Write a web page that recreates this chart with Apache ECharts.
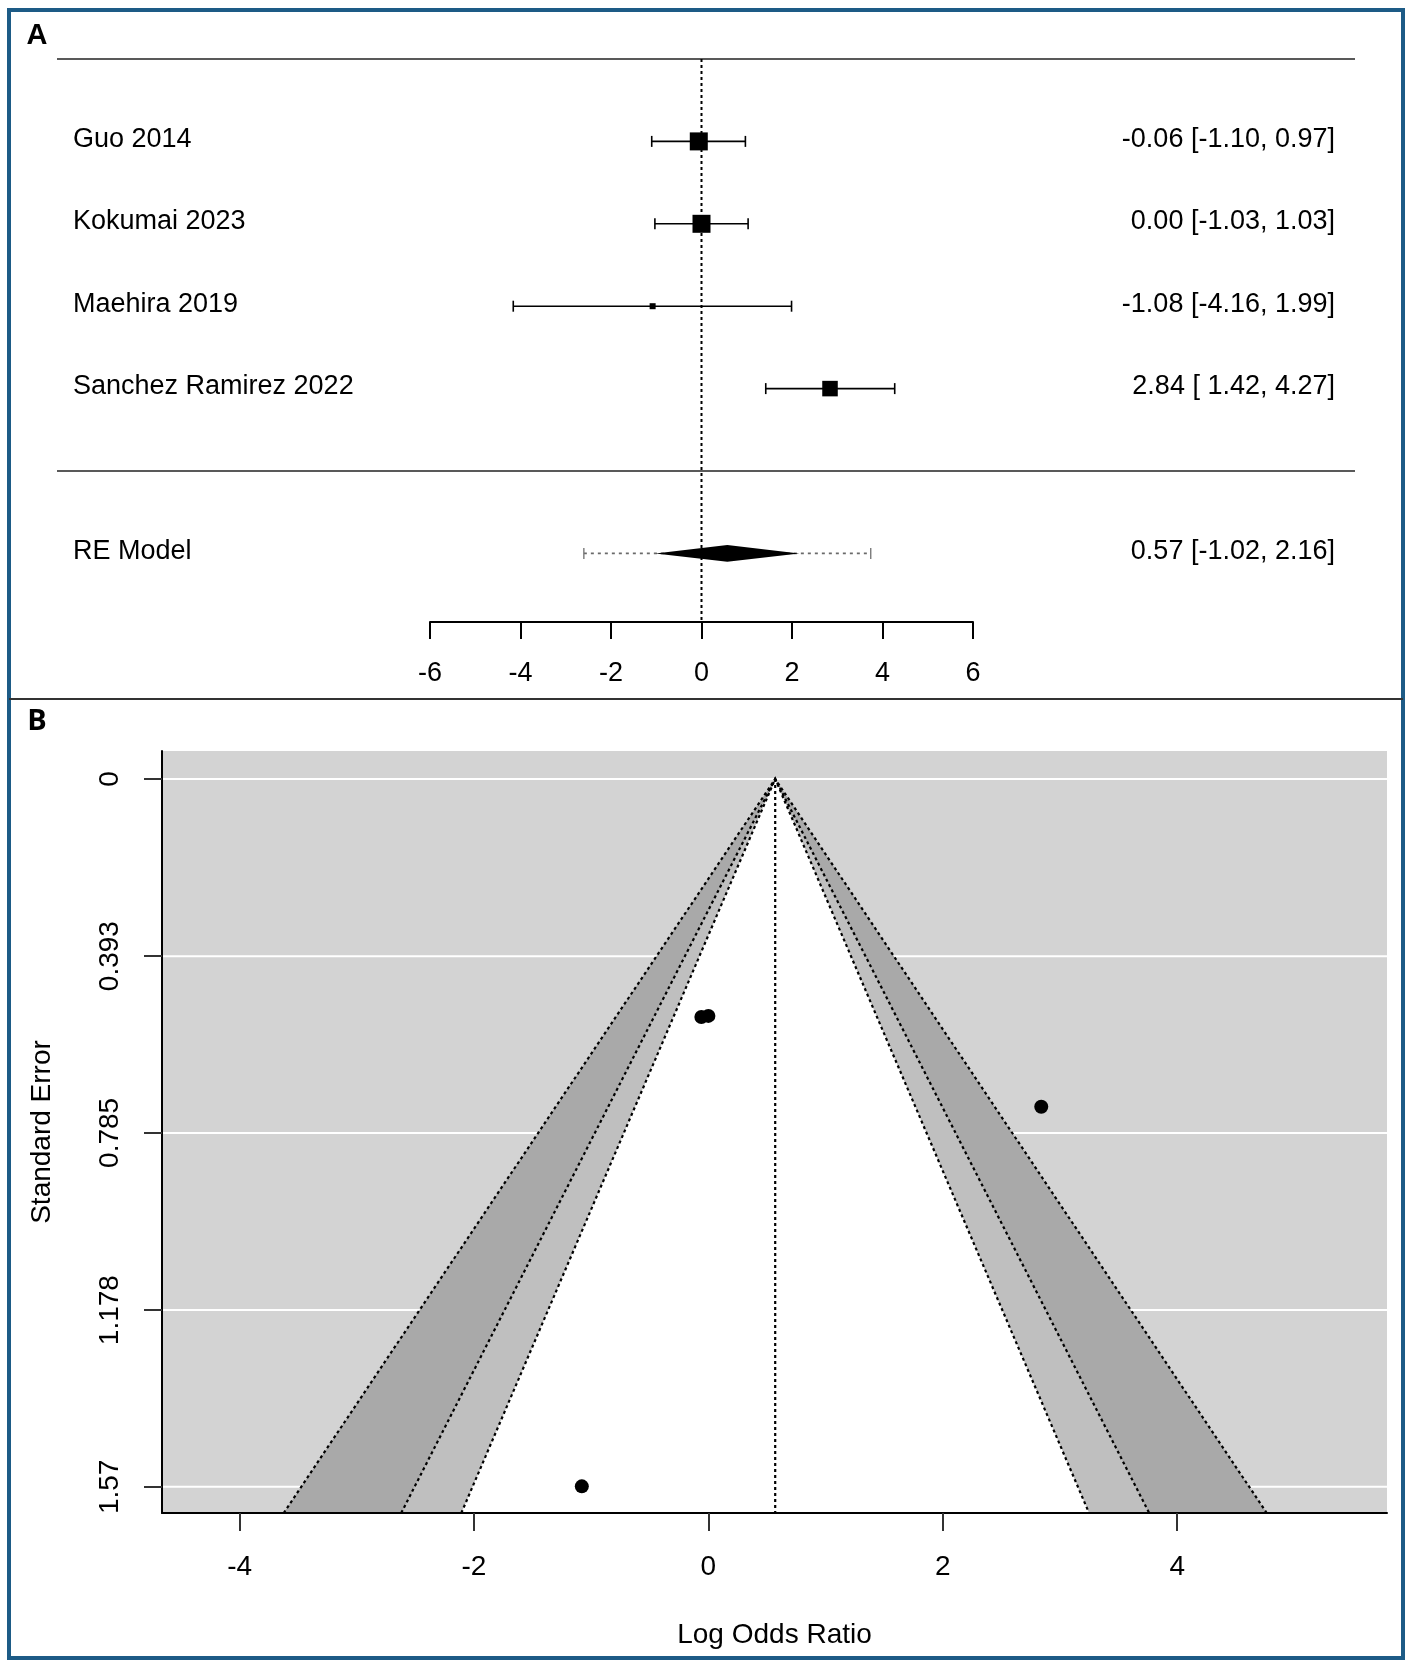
<!DOCTYPE html>
<html><head><meta charset="utf-8">
<script src="https://cdn.jsdelivr.net/npm/echarts@6/dist/echarts.min.js"></script>
<style>html,body{margin:0;padding:0;background:#fff}#c{width:1417px;height:1671px}</style>
</head><body><div id="c"></div>
<script>
// ---------------- DATA ----------------
const studies   = ['Guo 2014', 'Kokumai 2023', 'Maehira 2019', 'Sanchez Ramirez 2022'];
const estimates = [-0.06, 0.00, -1.08, 2.84];
const ciLower   = [-1.10, -1.03, -4.16, 1.42];
const ciUpper   = [0.97, 1.03, 1.99, 4.27];
const weights   = [29.4, 29.4, 14.8, 26.4];
const reLabel = 'RE Model';
const reEstimate = 0.57, reLower = -1.02, reUpper = 2.16;
const piLower = -2.60, piUpper = 3.74;
const forestTicks = [-6, -4, -2, 0, 2, 4, 6];
const funnelXTicks = [-4, -2, 0, 2, 4];
const funnelYTicks = [0, 0.393, 0.785, 1.178, 1.57];
const contourZ = [2.576, 1.960, 1.645];          // 99%, 95%, 90%
const funnelXName = 'Log Odds Ratio', funnelYName = 'Standard Error';

// ---------------- LAYOUT / STYLE ----------------
const FONT = '"Liberation Sans", Arial, sans-serif';
const FL = {left: 57, right: 1355, top: 59, bottom: 622, zeroPx: 701.5, unitPx: 45.25, rowPx: 82.4};
const k = studies.length;
const fXmin = (FL.left - FL.zeroPx) / FL.unitPx, fXmax = (FL.right - FL.zeroPx) / FL.unitPx;
const fYmax = k + 1, fYmin = fYmax - (FL.bottom - FL.top) / FL.rowPx;
const axLeft = FL.zeroPx + forestTicks[0] * FL.unitPx;
const axWidth = (forestTicks[forestTicks.length - 1] - forestTicks[0]) * FL.unitPx;

const FU = {left: 162, top: 751, width: 1225, height: 762, xmin: -4.662, xmax: 5.79, ymin: -0.062, ymax: 1.628};
const bandColors = ['#a9a9a9', '#bfbfbf', '#ffffff'];

const wMin = Math.min(...weights), wMax = Math.max(...weights);
const allLb = ciLower.concat([reLower]).map(v => v.toFixed(2));
const lbW = Math.max(...allLb.map(s => s.length));
const allUb = ciUpper.concat([reUpper]).map(v => v.toFixed(2));
const ubW = Math.max(...allUb.map(s => s.length));
const pad = (s, w) => ' '.repeat(Math.max(0, w - s.length)) + s;
const annot = (e, l, u) => `${e.toFixed(2)} [${pad(l.toFixed(2), lbW)}, ${pad(u.toFixed(2), ubW)}]`;

const se = ciLower.map((l, i) => (ciUpper[i] - l) / (2 * 1.96));

const txt = (x, y, text, align, size) => ({
  type: 'text', x, y,
  style: {text, fill: '#000', fontSize: size, fontFamily: FONT, align, verticalAlign: 'middle'}
});

const chart = echarts.init(document.getElementById('c'), null, {renderer: 'canvas', width: 1417, height: 1671});

const option = {
  backgroundColor: '#fff',
  animation: false,
  grid: [
    {left: FL.left, top: FL.top, width: FL.right - FL.left, height: FL.bottom - FL.top, show: false},
    {left: axLeft, top: FL.top, width: axWidth, height: FL.bottom - FL.top, show: false},
    {left: FU.left, top: FU.top, width: FU.width, height: FU.height, show: true,
     backgroundColor: '#d3d3d3', borderWidth: 0}
  ],
  xAxis: [
    {gridIndex: 0, type: 'value', min: fXmin, max: fXmax, show: false},
    {gridIndex: 1, type: 'value', min: forestTicks[0], max: forestTicks[forestTicks.length - 1], interval: 2,
     position: 'bottom', splitLine: {show: false}, z: 10,
     axisLine: {onZero: false, lineStyle: {color: '#000', width: 2}},
     axisTick: {length: 17, lineStyle: {color: '#000', width: 2}},
     axisLabel: {fontSize: 27, fontFamily: FONT, color: '#000', margin: 38}},
    {gridIndex: 2, type: 'value', min: FU.xmin, max: FU.xmax, z: 10,
     position: 'bottom', splitLine: {show: false},
     axisLine: {onZero: false, lineStyle: {color: '#000', width: 2}},
     axisTick: {customValues: funnelXTicks, length: 18, lineStyle: {color: '#333', width: 2}},
     axisLabel: {customValues: funnelXTicks, fontSize: 28, fontFamily: FONT, color: '#000', margin: 40,
                 formatter: v => String(v)},
     name: funnelXName, nameLocation: 'middle', nameGap: 108,
     nameTextStyle: {fontSize: 28, fontFamily: FONT, color: '#000'}}
  ],
  yAxis: [
    {gridIndex: 0, type: 'value', min: fYmin, max: fYmax, show: false},
    {gridIndex: 1, type: 'value', min: fYmin, max: fYmax, show: false},
    {gridIndex: 2, type: 'value', min: FU.ymin, max: FU.ymax, inverse: true, z: 10,
     splitLine: {show: false},
     axisLine: {onZero: false, lineStyle: {color: '#000', width: 2}},
     axisTick: {customValues: funnelYTicks, length: 18, lineStyle: {color: '#333', width: 2}},
     axisLabel: {customValues: funnelYTicks, rotate: 90, fontSize: 28, fontFamily: FONT, color: '#000', margin: 38,
                 formatter: v => String(v)},
     name: funnelYName, nameLocation: 'middle', nameRotate: 90, nameGap: 106,
     nameTextStyle: {fontSize: 28, fontFamily: FONT, color: '#000'}}
  ],
  graphic: [
    {type: 'rect', shape: {x: 9, y: 10, width: 1394, height: 1648},
     style: {fill: 'none', stroke: '#1d5b86', lineWidth: 4}, z: 100},
    {type: 'line', shape: {x1: 9, y1: 699, x2: 1403, y2: 699},
     style: {stroke: '#333', lineWidth: 2}, z: 100},
    {type: 'text', x: 37, y: 36, style: {text: 'A', fill: '#000', fontSize: 29, fontWeight: 'bold',
      fontFamily: FONT, align: 'center', verticalAlign: 'middle'}, z: 100},
    {type: 'text', x: 37, y: 722, style: {text: 'B', fill: '#000', fontSize: 29, fontWeight: 'bold',
      fontFamily: '"Open Sans", "Noto Sans", sans-serif', align: 'center', verticalAlign: 'middle'}, z: 100}
  ],
  series: [
    // forest: horizontal separators
    {type: 'custom', xAxisIndex: 0, yAxisIndex: 0, data: [[k + 1], [0]], silent: true,
     renderItem(params, api) {
       const cs = params.coordSys; const p = api.coord([0, api.value(0)]);
       return {type: 'line', shape: {x1: cs.x, y1: p[1], x2: cs.x + cs.width, y2: p[1]},
               style: {stroke: '#222', lineWidth: 1.6}};
     }},
    // forest: reference line at 0
    {type: 'custom', xAxisIndex: 0, yAxisIndex: 0, data: [[0]], silent: true,
     renderItem(params, api) {
       const a = api.coord([api.value(0), fYmax]), b = api.coord([api.value(0), fYmin]);
       return {type: 'line', shape: {x1: a[0], y1: a[1], x2: b[0], y2: b[1]},
               style: {stroke: '#000', lineWidth: 2, lineDash: [3, 3]}};
     }},
    // forest: studies
    {type: 'custom', xAxisIndex: 0, yAxisIndex: 0, silent: true,
     data: studies.map((s, i) => [estimates[i], ciLower[i], ciUpper[i], k - i, weights[i]]),
     renderItem(params, api) {
       const i = params.dataIndex, cs = params.coordSys;
       const row = api.value(3);
       const pE = api.coord([api.value(0), row]), pL = api.coord([api.value(1), row]), pH = api.coord([api.value(2), row]);
       const size = 6 + (api.value(4) - wMin) / (wMax - wMin) * 12;
       const cap = 5.5, ls = {stroke: '#000', lineWidth: 1.6};
       return {type: 'group', children: [
         {type: 'line', shape: {x1: pL[0], y1: pL[1], x2: pH[0], y2: pH[1]}, style: ls},
         {type: 'line', shape: {x1: pL[0], y1: pL[1] - cap, x2: pL[0], y2: pL[1] + cap}, style: ls},
         {type: 'line', shape: {x1: pH[0], y1: pH[1] - cap, x2: pH[0], y2: pH[1] + cap}, style: ls},
         {type: 'rect', shape: {x: pE[0] - size / 2, y: pE[1] - size / 2, width: size, height: size}, style: {fill: '#000'}},
         txt(cs.x + 16, pE[1] - 2, studies[i], 'left', 27),
         txt(cs.x + cs.width - 20, pE[1] - 2, annot(estimates[i], ciLower[i], ciUpper[i]), 'right', 27)
       ]};
     }},
    // forest: RE model
    {type: 'custom', xAxisIndex: 0, yAxisIndex: 0, silent: true,
     data: [[reEstimate, reLower, reUpper, -1, piLower, piUpper]],
     renderItem(params, api) {
       const cs = params.coordSys, row = api.value(3);
       const pE = api.coord([api.value(0), row]), pL = api.coord([api.value(1), row]), pH = api.coord([api.value(2), row]);
       const q1 = api.coord([api.value(4), row]), q2 = api.coord([api.value(5), row]);
       const h = 8.3, cap = 5.5, gs = {stroke: '#7a7a7a', lineWidth: 1.4};
       return {type: 'group', children: [
         {type: 'line', shape: {x1: q1[0], y1: q1[1], x2: q2[0], y2: q2[1]},
          style: {stroke: '#6a6a6a', lineWidth: 1.6, lineDash: [3, 4]}},
         {type: 'line', shape: {x1: q1[0], y1: q1[1] - cap, x2: q1[0], y2: q1[1] + cap}, style: gs},
         {type: 'line', shape: {x1: q2[0], y1: q2[1] - cap, x2: q2[0], y2: q2[1] + cap}, style: gs},
         {type: 'polygon', shape: {points: [[pL[0], pL[1]], [pE[0], pE[1] - h], [pH[0], pH[1]], [pE[0], pE[1] + h]]},
          style: {fill: '#000'}},
         txt(cs.x + 16, pE[1] - 2, reLabel, 'left', 27),
         txt(cs.x + cs.width - 20, pE[1] - 2, annot(reEstimate, reLower, reUpper), 'right', 27)
       ]};
     }},
    // funnel: white grid lines
    {type: 'custom', xAxisIndex: 2, yAxisIndex: 2, silent: true, data: funnelYTicks.map(v => [v]),
     renderItem(params, api) {
       const cs = params.coordSys, p = api.coord([0, api.value(0)]);
       return {type: 'line', shape: {x1: cs.x, y1: p[1], x2: cs.x + cs.width, y2: p[1]},
               style: {stroke: '#fff', lineWidth: 2}};
     }},
    // funnel: contour regions
    {type: 'custom', xAxisIndex: 2, yAxisIndex: 2, silent: true,
     data: contourZ.map(z => [reEstimate, z]),
     renderItem(params, api) {
       const est = api.value(0), z = api.value(1), yb = FU.ymax;
       const a = api.coord([est, 0]), l = api.coord([est - z * yb, yb]), r = api.coord([est + z * yb, yb]);
       return {type: 'polygon', shape: {points: [a, l, r]}, style: {fill: bandColors[params.dataIndex]}};
     }},
    // funnel: dotted contour boundaries and reference line
    {type: 'custom', xAxisIndex: 2, yAxisIndex: 2, silent: true,
     data: contourZ.map(z => [reEstimate, z]).concat([[reEstimate, 0]]),
     renderItem(params, api) {
       const est = api.value(0), z = api.value(1), yb = FU.ymax;
       const a = api.coord([est, 0]), l = api.coord([est - z * yb, yb]), r = api.coord([est + z * yb, yb]);
       const ds = {stroke: '#000', lineWidth: 2.2, lineDash: [3, 3], fill: null};
       if (z === 0) {
         return {type: 'line', shape: {x1: a[0], y1: a[1], x2: l[0], y2: l[1]}, style: ds};
       }
       return {type: 'polyline', shape: {points: [l, a, r]}, style: ds};
     }},
    // funnel: studies
    {type: 'scatter', xAxisIndex: 2, yAxisIndex: 2, symbol: 'circle', symbolSize: 14, silent: true,
     itemStyle: {color: '#000', opacity: 1},
     data: estimates.map((e, i) => [e, se[i]])}
  ]
};
chart.setOption(option);
</script>
</body></html>
